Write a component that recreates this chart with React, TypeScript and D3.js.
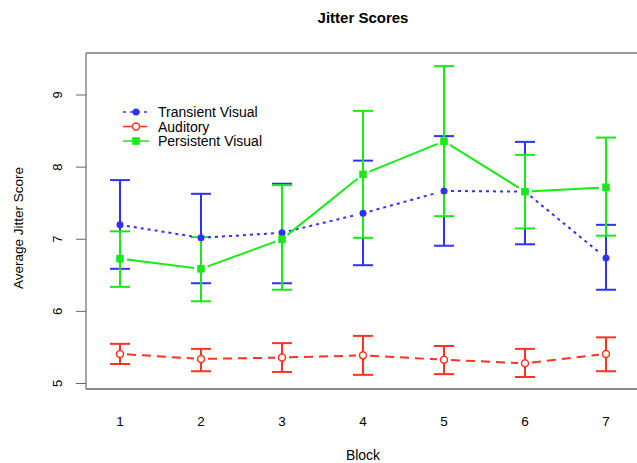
import React from "react";
import * as d3 from "d3";

const blocks = [1, 2, 3, 4, 5, 6, 7];
const yTicks = [5, 6, 7, 8, 9];

const transientMean = [7.2, 7.02, 7.09, 7.36, 7.67, 7.66, 6.74];
const transientUpper = [7.82, 7.63, 7.77, 8.09, 8.43, 8.35, 7.2];
const transientLower = [6.59, 6.39, 6.39, 6.64, 6.91, 6.93, 6.3];

const auditoryMean = [5.41, 5.34, 5.36, 5.39, 5.33, 5.28, 5.41];
const auditoryUpper = [5.55, 5.48, 5.56, 5.66, 5.52, 5.48, 5.64];
const auditoryLower = [5.27, 5.17, 5.16, 5.12, 5.13, 5.09, 5.17];

const persistentMean = [6.73, 6.59, 7.0, 7.9, 8.36, 7.66, 7.72];
const persistentUpper = [7.11, 7.03, 7.75, 8.78, 9.4, 8.17, 8.41];
const persistentLower = [6.34, 6.14, 6.3, 7.02, 7.32, 7.15, 7.05];

const seriesNames = ["Transient Visual", "Auditory", "Persistent Visual"];

const W = 637;
const H = 463;
const FONT = "'Liberation Sans', Arial, sans-serif";

export default function App() {
  const x = d3.scaleLinear().domain([1, 7]).range([120, 606]);
  const y = d3.scaleLinear().domain([5, 9]).range([383.5, 95]);

  const series = [
    { name: seriesNames[0], mean: transientMean, up: transientUpper, lo: transientLower, color: "#3030ff", dash: "3,4", marker: "dot" },
    { name: seriesNames[1], mean: auditoryMean, up: auditoryUpper, lo: auditoryLower, color: "#ff3322", dash: "9,6", marker: "open" },
    { name: seriesNames[2], mean: persistentMean, up: persistentUpper, lo: persistentLower, color: "#18ea18", dash: "", marker: "square" },
  ];

  const gap = 7;
  const segs = (s: any) => {
    const out: any[] = [];
    for (let i = 0; i < s.mean.length - 1; i++) {
      const x1 = x(blocks[i]), y1 = y(s.mean[i]);
      const x2 = x(blocks[i + 1]), y2 = y(s.mean[i + 1]);
      const dx = x2 - x1, dy = y2 - y1;
      const len = Math.sqrt(dx * dx + dy * dy);
      const ux = dx / len, uy = dy / len;
      out.push(
        <line key={i} x1={x1 + ux * gap} y1={y1 + uy * gap} x2={x2 - ux * gap} y2={y2 - uy * gap}
          stroke={s.color} strokeWidth={2} strokeDasharray={s.dash || undefined} />
      );
    }
    return out;
  };

  const marker = (s: any, cx: number, cy: number, key: any) => {
    if (s.marker === "dot") return <circle key={key} cx={cx} cy={cy} r={3.5} fill={s.color} />;
    if (s.marker === "open") return <circle key={key} cx={cx} cy={cy} r={3.5} fill="white" stroke={s.color} strokeWidth={1.5} />;
    return <rect key={key} x={cx - 3.8} y={cy - 3.8} width={7.6} height={7.6} fill={s.color} />;
  };

  const cap = 10;

  return (
    <svg width={W} height={H} style={{ position: "absolute", left: 0, top: 0, background: "white" }} fontFamily={FONT}>
      <rect width={W} height={H} fill="white" />
      <text x={363} y={23} textAnchor="middle" fontSize={15} fontWeight="bold">Jitter Scores</text>

      <line x1={86} y1={53} x2={W} y2={53} stroke="#999" strokeWidth={2} />
      <line x1={86} y1={389} x2={W} y2={389} stroke="#888" strokeWidth={2} />
      <line x1={86} y1={53} x2={86} y2={389} stroke="#888" strokeWidth={1.5} />

      {yTicks.map((t) => (
        <g key={t}>
          <line x1={76} x2={86} y1={y(t)} y2={y(t)} stroke="#666" strokeWidth={1} />
          <text transform={`translate(${62},${y(t)}) rotate(-90)`} textAnchor="middle" fontSize={13}>{t}</text>
        </g>
      ))}
      {blocks.map((b) => (
        <text key={b} x={x(b)} y={426} textAnchor="middle" fontSize={13.5}>{b}</text>
      ))}
      <text x={363} y={460} textAnchor="middle" fontSize={14}>Block</text>
      <text transform={`translate(${23},${228}) rotate(-90)`} textAnchor="middle" fontSize={13.5}>Average Jitter Score</text>

      {series.map((s, si) => (
        <g key={si}>
          {s.mean.map((m: number, i: number) => {
            const cx = x(blocks[i]);
            return (
              <g key={i}>
                <line x1={cx} x2={cx} y1={y(s.up[i])} y2={y(s.lo[i])} stroke={s.color} strokeWidth={2} />
                <line x1={cx - cap} x2={cx + cap} y1={y(s.up[i])} y2={y(s.up[i])} stroke={s.color} strokeWidth={2} />
                <line x1={cx - cap} x2={cx + cap} y1={y(s.lo[i])} y2={y(s.lo[i])} stroke={s.color} strokeWidth={2} />
              </g>
            );
          })}
        </g>
      ))}
      {series.map((s, si) => (
        <g key={"l" + si}>
          {segs(s)}
          {s.mean.map((m: number, i: number) => marker(s, x(blocks[i]), y(m), i))}
        </g>
      ))}

      {series.map((s, i) => {
        const ly = 112 + i * 14.5;
        return (
          <g key={"lg" + i}>
            <line x1={123} x2={149} y1={ly} y2={ly} stroke={s.color} strokeWidth={1.5} strokeDasharray={s.dash || undefined} />
            {marker(s, 136, ly, "m")}
            <text x={158} y={ly + 5} fontSize={14}>{s.name}</text>
          </g>
        );
      })}
    </svg>
  );
}
